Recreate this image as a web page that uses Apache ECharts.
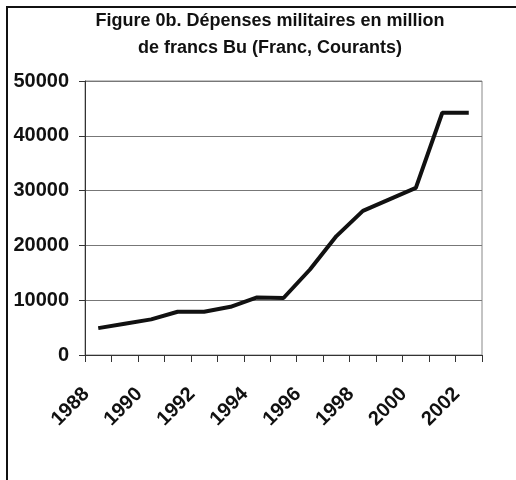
<!DOCTYPE html>
<html>
<head>
<meta charset="utf-8">
<script src="https://cdn.jsdelivr.net/npm/echarts@6/dist/echarts.min.js"></script>
<style>
html,body{margin:0;padding:0;background:#fff;}
#chart{width:516px;height:480px;}
</style>
</head>
<body>
<div id="chart"></div>
<script>
var titleText = "Figure 0b. Dépenses militaires en million\nde francs Bu (Franc, Courants)";
var years = ["1988","1989","1990","1991","1992","1993","1994","1995","1996","1997","1998","1999","2000","2001","2002"];
var spending = [4900, 5700, 6500, 7900, 7900, 8800, 10500, 10400, 15600, 21700, 26300, 28400, 30500, 44200, 44200];
var yMin = 0, yMax = 50000, yStep = 10000;

var labelFont = "'Liberation Sans', Arial, sans-serif";
var chart = echarts.init(document.getElementById('chart'), null, {renderer:'canvas'});
chart.setOption({
  backgroundColor: '#fff',
  animation: false,
  title: {
    text: titleText,
    left: 265, textAlign: 'center',
    top: 3,
    textStyle: {fontFamily: labelFont, fontWeight: 'bold', fontSize: 18, lineHeight: 27, color: '#111'}
  },
  graphic: [
    {type:'line', shape:{x1:7, y1:7, x2:7, y2:480}, style:{stroke:'#111', lineWidth:2}},
    {type:'line', shape:{x1:6, y1:7, x2:516, y2:7}, style:{stroke:'#111', lineWidth:2}}
  ],
  grid: {left: 85, right: 34, top: 81, bottom: 125, show: true, borderColor: '#888', borderWidth: 1},
  xAxis: {
    type: 'category',
    data: years,
    boundaryGap: true,
    axisLine: {lineStyle: {color: '#333', width: 1}},
    axisTick: {show: true, interval: 0, length: 7, lineStyle: {color: '#333'}},
    axisLabel: {interval: 1, rotate: 45, margin: 24, padding: [0, 17, 0, 0], color: '#111',
      fontFamily: labelFont, fontWeight: 'bold', fontSize: 20},
    splitLine: {show: false}
  },
  yAxis: {
    type: 'value',
    min: yMin, max: yMax, interval: yStep,
    axisLine: {show: true, lineStyle: {color: '#333', width: 1}},
    axisTick: {show: true, length: 6, lineStyle: {color: '#333'}},
    axisLabel: {margin: 16, color: '#111', fontFamily: labelFont, fontWeight: 'bold', fontSize: 20,
      formatter: function (v) { return String(v); }},
    splitLine: {show: true, lineStyle: {color: '#777', width: 1}}
  },
  series: [{
    type: 'line',
    data: spending,
    symbol: 'none',
    lineStyle: {color: '#111', width: 4},
    itemStyle: {color: '#111'}
  }]
});
</script>
</body>
</html>
